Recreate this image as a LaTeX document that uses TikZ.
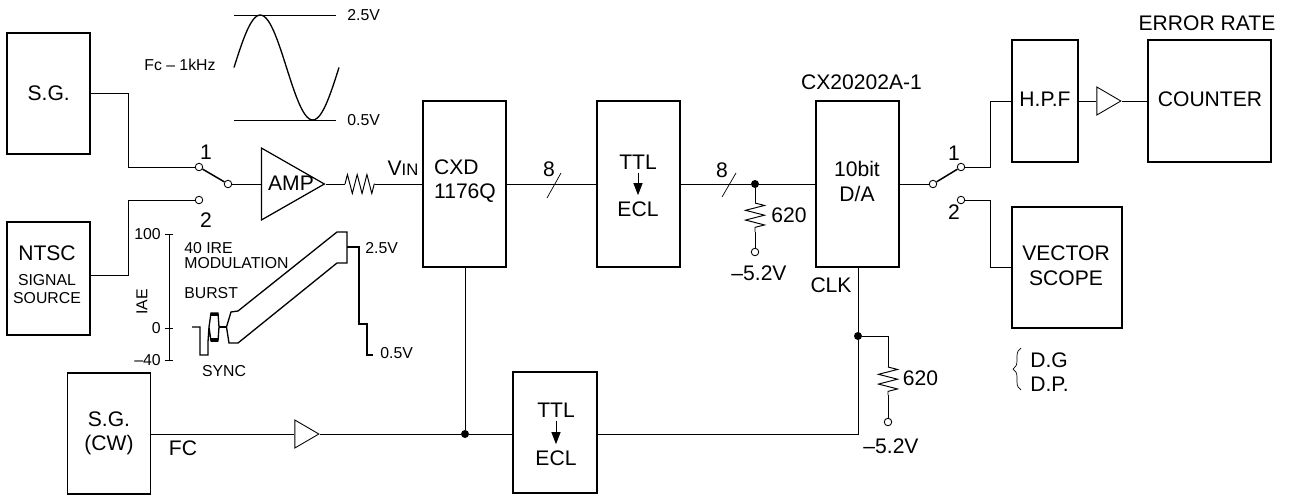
\documentclass[tikz,border=0pt]{standalone}
\usepackage{fontspec}
\setmainfont{Liberation Sans}
\usetikzlibrary{shapes.geometric,decorations.pathmorphing,decorations.pathreplacing,arrows.meta}
\tikzset{
  blk/.style={draw, line width=1.1pt, rectangle, minimum width=1.66cm, minimum height=2.42cm, inner sep=0pt, font=\fontsize{12}{14}\selectfont, align=center},
  txt/.style={inner sep=0pt, font=\fontsize{12}{14}\selectfont, align=center},
  lbl/.style={inner sep=0pt, font=\fontsize{9}{9.5}\selectfont, align=left},
  wire/.style={line width=0.55pt},
  trace/.style={line width=0.75pt},
  blade/.style={line width=0.85pt},
  term/.style={draw, circle, fill=white, inner sep=0pt, minimum size=0.15cm, line width=0.5pt},
  jdot/.style={fill, circle, inner sep=0pt, minimum size=0.16cm},
  buf/.style={draw, isosceles triangle, isosceles triangle stretches, inner sep=0pt, minimum width=0.56cm, minimum height=0.48cm, anchor=apex, line width=0.5pt},
  reswire/.style={wire, decorate, decoration={zigzag, segment length=0.195cm, amplitude=0.19cm}},
  conv/.style={-{Triangle[length=0.24cm,width=0.18cm]}, wire, shorten <=0.06cm, shorten >=0.12cm}
}
\begin{document}
\begin{tikzpicture}[x=0.02cm, y=-0.02cm]
\useasboundingbox (0,0) rectangle (1292,495);
% Rows
\coordinate (rowtop) at (0,101);
\coordinate (rowmid) at (0,184);
\coordinate (rowsrc) at (0,275);
\coordinate (rowlow) at (0,434);

% Blocks
\node[blk] (sg) at (48.75,93.5) {S.G.};
\node[blk, minimum height=2.26cm] (ntsc) at (48.75,278.5) {};
\node[txt] (ntsctxt) at (47,253) {NTSC};
\node[txt, font=\fontsize{9}{10.3}\selectfont] (ntscsub) at (47,289) {SIGNAL\\SOURCE};
\node[blk] (sgcw) at (109,433.5) {S.G.\\(CW)};
\node[blk, minimum height=3.32cm] (cxd) at (464.5,184) {};
\node[txt, align=left] (cxdtxt) at (465,181) {CXD\\1176Q};
\node[blk, minimum height=3.32cm] (conva) at (638.5,184) {};
\node[txt] (ttla) at (638,162) {TTL};
\node[txt] (ecla) at (638,209) {ECL};
\node[blk, minimum height=3.32cm] (dac) at (857.5,184) {};
\node[txt] (dactxt) at (857,181.5) {10bit\\D/A};
\node[blk, minimum width=1.68cm] (convb) at (555,432.5) {};
\node[txt] (ttlb) at (556,410) {TTL};
\node[txt] (eclb) at (556,458) {ECL};
\node[blk, minimum width=1.32cm, minimum height=2.44cm] (hpf) at (1045,101) {};
\node[txt] (hpftxt) at (1045,99) {H.P.F};
\node[blk, minimum width=2.46cm, minimum height=2.44cm] (counter) at (1209.5,101) {};
\node[txt] (countertxt) at (1210,99) {COUNTER};
\node[blk, minimum width=2.2cm] (scope) at (1067,267.5) {};
\node[txt] (scopetxt) at (1066,266) {VECTOR\\SCOPE};

\draw[conv] (ttla) -- (ecla);
\draw[conv] (ttlb) -- (eclb);

% Amplifiers
\node[buf, line width=0.7pt, minimum width=1.44cm, minimum height=1.26cm] (amp) at (326,184) {};
\node[txt] (amptxt) at (291,183) {AMP};
\node[buf] (bufa) at (320,434) {};
\node[buf] (bufb) at (1122,101) {};

% Input switch
\node[term] (swaa) at (199,167) {};
\node[term] (swab) at (199,200) {};
\node[term] (swap) at (228,184) {};
\node[txt] (swaone) at (206,152) {1};
\node[txt] (swatwo) at (206,220) {2};
\draw[wire] (sg.east) -| (128,167) -- (swaa);
\draw[wire] (ntsc.east |- rowsrc) -| (128,200) -- (swab);
\draw[blade] (swaa) -- (swap);
\draw[wire] (swap) -- (amp.west |- swap);

% Output switch
\node[term] (swbp) at (933,184) {};
\node[term] (swba) at (961,167) {};
\node[term] (swbb) at (961,200) {};
\node[txt] (swbone) at (954,153) {1};
\node[txt] (swbtwo) at (954,212) {2};
\draw[wire] (dac.east |- rowmid) -- (swbp);
\draw[blade] (swbp) -- (swba);
\draw[wire] (swba) -- (990,167) |- (hpf.west);
\draw[wire] (swbb) -- (990,200) |- (scope.west);
\draw[wire] (hpf.east) -- (bufb.west);
\draw[wire] (bufb.apex) -- (counter.west |- rowtop);

% Signal path
\coordinate (resaa) at (345,184);
\coordinate (resab) at (375,184);
\draw[wire] (amp.apex) -- (resaa);
\draw[reswire] (resaa) -- (resab);
\draw[wire] (resab) -- (cxd.west |- rowmid);
\node[txt] (vin) at (403,168) {V{\fontsize{9.5}{9.5}\selectfont IN}};
\draw[wire] (cxd.east |- rowmid) -- (conva.west |- rowmid);
\node[jdot] (jbus) at (755,184) {};
\draw[wire] (conva.east |- rowmid) -- (jbus);
\draw[wire] (jbus) -- (dac.west |- rowmid);
\node[txt] (buscounta) at (549,169) {8};
\node[txt] (buscountb) at (722,170) {8};
\coordinate (slaa) at (547,198);
\coordinate (slab) at (561,173);
\coordinate (slba) at (722,197);
\coordinate (slbb) at (736,173);
\draw[line width=0.4pt] (slaa) -- (slab);
\draw[line width=0.4pt] (slba) -- (slbb);

% Pull-down at bus
\coordinate (resba) at (755,203);
\coordinate (resbb) at (755,232);
\node[term] (vssa) at (755,252) {};
\draw[wire] (jbus) -- (resba);
\draw[reswire] (resba) -- (resbb);
\draw[wire] (resbb) -- (vssa);
\node[txt] (resbtxt) at (789,215) {620};
\node[txt] (vssatxt) at (759,273) {–5.2V};

% Clock path
\node[jdot] (jclka) at (465,434) {};
\node[jdot] (jclkb) at (858,336) {};
\draw[wire] (sgcw.east |- rowlow) -- (bufa.west);
\draw[wire] (bufa.apex) -- (jclka);
\draw[wire] (jclka) -- (convb.west |- rowlow);
\draw[wire] (cxd.south -| jclka) -- (jclka);
\draw[wire] (convb.east |- rowlow) -| (jclkb);
\draw[wire] (jclkb) -- (dac.south -| jclkb);
\coordinate (resca) at (888,367);
\coordinate (rescb) at (888,395);
\node[term] (vssb) at (888,422) {};
\draw[wire] (jclkb) -| (resca);
\draw[reswire] (resca) -- (rescb);
\draw[wire] (rescb) -- (vssb);
\node[txt] (resctxt) at (920.5,378) {620};
\node[txt] (vssbtxt) at (891,446) {–5.2V};
\node[txt] (fc) at (183,448) {FC};
\node[txt] (clk) at (831,285) {CLK};
\node[txt] (part) at (861.5,82) {CX20202A-1};
\node[txt] (errrate) at (1207,23) {ERROR RATE};

% Sine wave
\coordinate (stopa) at (234,15);
\coordinate (stopb) at (336,15);
\coordinate (sbota) at (234,120);
\coordinate (sbotb) at (336,120);
\draw[wire] (stopa) -- (stopb);
\draw[wire] (sbota) -- (sbotb);
\draw[trace, domain=0:105, samples=50, smooth] plot ({234+\x}, {67.5-52.5*sin(\x/105*360)});
\node[lbl, anchor=west] (topv) at (347,15) {2.5V};
\node[lbl, anchor=west] (botv) at (347,120) {0.5V};
\node[lbl, anchor=west] (freq) at (144,65) {Fc – 1kHz};

% IRE scale
\coordinate (scalet) at (169,234);
\coordinate (scaleb) at (169,360);
\draw[line width=0.4pt] (scalet) -- (scaleb);
\draw[line width=0.4pt] (165,234) -- (173,234);
\draw[line width=0.4pt] (165,328) -- (173,328);
\draw[line width=0.4pt] (165,360) -- (173,360);
\node[lbl, anchor=east] (ireh) at (161,234) {100};
\node[lbl, anchor=east] (irez) at (161,328) {0};
\node[lbl, anchor=east] (irel) at (161,360) {–40};
\node[lbl, rotate=90] (iae) at (142,302) {IAE};

% Composite waveform
\draw[trace] (192,327) -- (200,327) -- (200,355) -- (208,355) -- (208,342) -- (209,327) -- (211,313) -- (218,313) -- (219,327) -- (218,341) -- (211,341) -- (209,327);
\fill (210.5,312.5) rectangle (218,316);
\fill (210.5,338) rectangle (218,341.5);
\draw[trace] (219,327) -- (226.5,327);
\draw[trace] (226.5,327) -- (231,312) -- (238,311) -- (337,232) -- (347,232) -- (347,263) -- (337,263) -- (238,343) -- (229,343) -- cycle;
\draw[trace] (347,247) -- (359,247) -- (359,324) -- (367,324) -- (367,355) -- (373,355);
\node[lbl, anchor=west] (irea) at (184,248) {40 IRE};
\node[lbl, anchor=west] (ireb) at (184,263) {MODULATION};
\node[lbl, anchor=west] (burst) at (184,293) {BURST};
\node[lbl] (sync) at (224,371) {SYNC};
\node[lbl, anchor=west] (hiv) at (365,248) {2.5V};
\node[lbl, anchor=west] (lov) at (380,353) {0.5V};

% D.G and D.P.
\node[txt, anchor=west] (dg) at (1030,360) {D.G};
\node[txt, anchor=west] (dp) at (1030,384) {D.P.};
\coordinate (bracet) at (1021,348);
\coordinate (braceb) at (1021,390);
\draw[line width=0.4pt, decorate, decoration={brace, amplitude=0.16cm}] (braceb) -- (bracet);
\end{tikzpicture}
\end{document}
